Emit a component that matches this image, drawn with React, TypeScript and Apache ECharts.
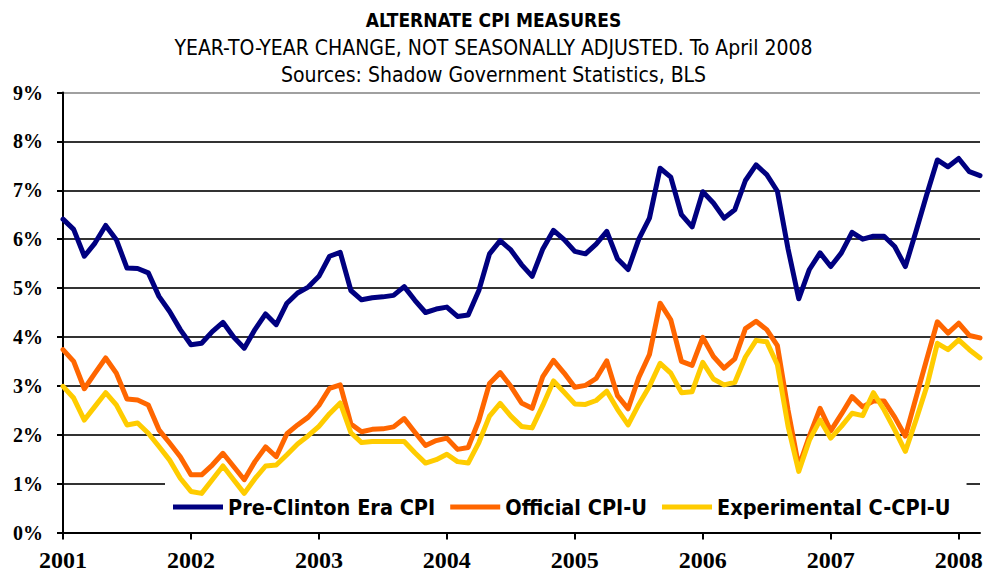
import React, { useEffect, useRef } from 'react';
import * as echarts from 'echarts';

const years = ['2001', '2002', '2003', '2004', '2005', '2006', '2007', '2008'];
const monthNames = ['Jan', 'Feb', 'Mar', 'Apr', 'May', 'Jun', 'Jul', 'Aug', 'Sep', 'Oct', 'Nov', 'Dec'];
// Jan 2001 .. Mar 2008
const categories = years.flatMap((y) => monthNames.map((m) => `${m} ${y}`)).slice(0, 87);

const seriesNames = ['Pre-Clinton Era CPI', 'Official CPI-U', 'Experimental C-CPI-U'];

const preClinton = [
  6.41, 6.2, 5.65, 5.92, 6.28, 5.99, 5.41, 5.4, 5.31, 4.83, 4.52, 4.15,
  3.84, 3.87, 4.11, 4.3, 4.0, 3.77, 4.15, 4.47, 4.25, 4.69, 4.9, 5.02,
  5.24, 5.65, 5.73, 4.95, 4.76, 4.8, 4.82, 4.85, 5.03, 4.75, 4.5, 4.57,
  4.61, 4.42, 4.45, 4.95, 5.7, 5.97, 5.78, 5.48, 5.24, 5.8, 6.18, 5.99,
  5.75, 5.7, 5.9, 6.16, 5.6, 5.38, 6.0, 6.43, 7.45, 7.27, 6.5, 6.25,
  6.97, 6.74, 6.43, 6.6, 7.2, 7.52, 7.32, 6.98, 5.8, 4.78, 5.38, 5.72,
  5.44, 5.72, 6.14, 6.0, 6.06, 6.06, 5.85, 5.44, 6.16, 6.91, 7.62, 7.48,
  7.65, 7.38, 7.3,
];

const officialCpiU = [
  3.74, 3.5, 2.94, 3.26, 3.57, 3.26, 2.73, 2.71, 2.61, 2.1, 1.83, 1.55,
  1.18, 1.18, 1.38, 1.62, 1.35, 1.08, 1.45, 1.75, 1.55, 2.02, 2.2, 2.36,
  2.6, 2.95, 3.02, 2.22, 2.06, 2.11, 2.12, 2.16, 2.33, 2.05, 1.78, 1.88,
  1.93, 1.7, 1.74, 2.29, 3.05, 3.27, 2.99, 2.65, 2.54, 3.19, 3.52, 3.26,
  2.97, 3.01, 3.15, 3.51, 2.8, 2.53, 3.17, 3.64, 4.69, 4.35, 3.5, 3.42,
  3.99, 3.6, 3.36, 3.55, 4.17, 4.32, 4.15, 3.82, 2.5, 1.35, 1.97, 2.54,
  2.08, 2.42, 2.78, 2.57, 2.69, 2.69, 2.36, 1.97, 2.76, 3.54, 4.31, 4.08,
  4.28, 4.03, 3.98,
];

const experimentalCCpiU = [
  2.99, 2.75, 2.3, 2.58, 2.86, 2.61, 2.2, 2.24, 2.03, 1.76, 1.48, 1.11,
  0.84, 0.8, 1.08, 1.36, 1.08, 0.8, 1.1, 1.36, 1.38, 1.59, 1.81, 1.98,
  2.17, 2.43, 2.65, 2.04, 1.84, 1.86, 1.86, 1.86, 1.86, 1.63, 1.42, 1.49,
  1.6, 1.45, 1.42, 1.84, 2.38, 2.64, 2.38, 2.17, 2.14, 2.6, 3.1, 2.87,
  2.63, 2.62, 2.7, 2.89, 2.52, 2.2, 2.62, 2.99, 3.46, 3.26, 2.86, 2.88,
  3.48, 3.14, 3.02, 3.07, 3.59, 3.93, 3.9, 3.43, 2.17, 1.25, 1.89, 2.3,
  1.93, 2.17, 2.44, 2.39, 2.86, 2.51, 2.1, 1.66, 2.3, 2.98, 3.87, 3.74,
  3.94, 3.74, 3.57,
];

const seriesColors = ['#000080', '#FF6600', '#FFCC00'];

const sansFont = '"DejaVu Sans Condensed", "Liberation Sans", Arial, sans-serif';
const serifFont = '"Liberation Serif", "Times New Roman", serif';

export default function App() {
  const ref = useRef<HTMLDivElement>(null);

  useEffect(() => {
    if (!ref.current) return;
    const chart = echarts.init(ref.current, undefined, { renderer: 'svg' });
    const gridColors = ['#333', '#333', '#333', '#333', '#333', '#333', '#333', '#333', '#333', '#a0a0a0'];
    const everyYear = (i: number) => i % 12 === 0;
    chart.setOption({
      animation: false,
      backgroundColor: '#ffffff',
      title: [
        {
          text: 'ALTERNATE CPI MEASURES',
          left: 'center',
          top: 5,
          textStyle: { fontFamily: sansFont, fontSize: 19, fontWeight: 'bold', color: '#000' },
        },
        {
          text: 'YEAR-TO-YEAR CHANGE, NOT SEASONALLY ADJUSTED. To April 2008',
          left: 'center',
          top: 32,
          textStyle: { fontFamily: sansFont, fontSize: 21, fontWeight: 'normal', color: '#000' },
        },
        {
          text: 'Sources: Shadow Government Statistics, BLS',
          left: 'center',
          top: 59,
          textStyle: { fontFamily: sansFont, fontSize: 21, fontWeight: 'normal', color: '#000' },
        },
      ],
      grid: {
        left: 63,
        right: 7,
        top: 92.5,
        bottom: 38.5,
        containLabel: false,
        outerBoundsMode: 'none',
      },
      legend: {
        data: seriesNames,
        left: 165,
        top: 481,
        z: 1,
        backgroundColor: '#ffffff',
        padding: [15, 16, 6, 8],
        icon: 'rect',
        itemWidth: 50,
        itemHeight: 5,
        itemGap: 15,
        textStyle: { fontFamily: sansFont, fontWeight: 'bold', fontSize: 21.5, color: '#000' },
      },
      xAxis: {
        type: 'category',
        data: categories,
        boundaryGap: false,
        axisLine: { lineStyle: { color: '#000', width: 2 } },
        axisTick: { show: true, interval: everyYear, length: 7, lineStyle: { color: '#000', width: 2 } },
        axisLabel: {
          interval: everyYear,
          formatter: (v: string) => v.split(' ')[1],
          fontFamily: serifFont,
          fontWeight: 'bold',
          fontSize: 24,
          lineHeight: 20,
          color: '#000',
          margin: 17,
        },
        splitLine: { show: false },
      },
      yAxis: {
        type: 'value',
        min: 0,
        max: 9,
        interval: 1,
        axisLine: { show: true, lineStyle: { color: '#000', width: 2 } },
        axisTick: { show: true, length: 6, lineStyle: { color: '#000', width: 2 } },
        axisLabel: {
          formatter: '{value}%',
          fontFamily: serifFont,
          fontWeight: 'bold',
          fontSize: 20,
          color: '#000',
          margin: 20,
        },
        splitLine: { show: true, lineStyle: { color: gridColors, width: 2 } },
      },
      series: [preClinton, officialCpiU, experimentalCCpiU].map((d, k) => ({
        name: seriesNames[k],
        type: 'line',
        data: d,
        z: 3,
        symbol: 'none',
        showSymbol: false,
        color: seriesColors[k],
        lineStyle: { color: seriesColors[k], width: 5, join: 'round', cap: 'round' },
        itemStyle: { color: seriesColors[k] },
      })),
    });
    return () => chart.dispose();
  }, []);

  return <div ref={ref} style={{ position: 'fixed', left: 0, top: 0, width: 987, height: 571 }} />;
}
